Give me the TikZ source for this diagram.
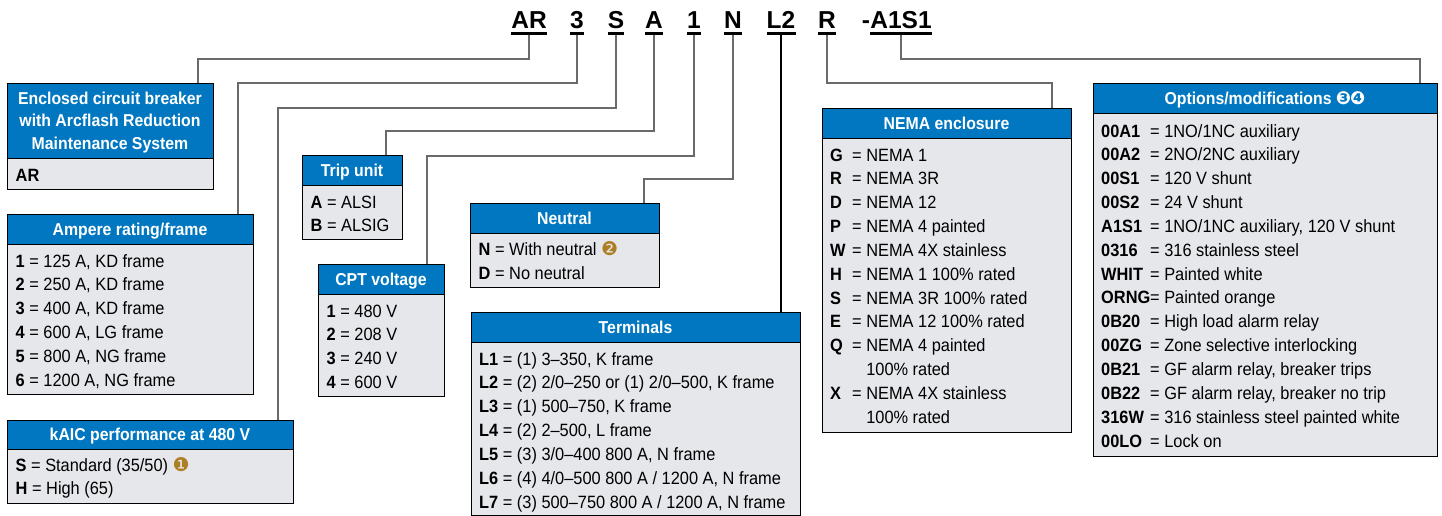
\documentclass[tikz,border=0pt]{standalone}
\usepackage{fontspec}
\setmainfont[FakeStretch=0.92]{Liberation Sans}
\newfontfamily\codefont{Liberation Sans}
\newfontfamily\dejavu{DejaVu Sans}
\usetikzlibrary{calc}
\definecolor{hdrblue}{HTML}{0077C0}
\definecolor{bodygray}{HTML}{E6E7EB}
\definecolor{fngold}{HTML}{AD7F24}
\definecolor{connline}{HTML}{6A6A6A}
\newcommand\fnote[1]{{\dejavu\fontsize{19}{19}\selectfont\color{fngold}#1}}
\newcommand\mkbox[7]{%
  \node[hdrbox, minimum width={#3-#2}, minimum height={#5-#4}] (#1h) at (#2,#4) {};
  \node[bodybox, minimum width={#3-#2}, minimum height={#6-#5}] (#1) at (#2,#5) {};
  \node[hdrtext] (#1t) at ({(#2+#3)/2},{#5-8.5}) {#7};
}
\newcommand\mkrows[4]{%
  \foreach \t [count=\i from 0] in {#4}
    \node[rowtext] (#1r\i) at (#2,{#3+\i*23.85}) {\t};
}
\tikzset{
  hdrbox/.style={draw=black, line width=1.2pt, fill=hdrblue, anchor=north west, inner sep=0pt},
  bodybox/.style={draw=black, line width=1.2pt, fill=bodygray, anchor=north west, inner sep=0pt},
  hdrtext/.style={anchor=base, text=white, font=\bfseries\fontsize{17.2}{22.7}\selectfont, inner sep=0pt},
  rowtext/.style={anchor=base west, inner sep=0pt, font=\fontsize{17.8}{23.85}\selectfont},
  code/.style={anchor=base, inner sep=0pt, font=\codefont\bfseries\fontsize{24.5}{24.5}\selectfont},
  uline/.style={line width=3pt},
  conn/.style={draw=connline, line width=1.2pt},
  connblack/.style={draw=black, line width=1.2pt},
}
\begin{document}
\begin{tikzpicture}[x=1pt,y=-1pt]
\useasboundingbox (0,0) rectangle (1442,516);

% catalog number
\node[code] (cAR) at (529,29) {AR};
\node[code] (c3) at (577,29) {3};
\node[code] (cS) at (616,29) {S};
\node[code] (cA) at (654,29) {A};
\node[code] (c1) at (694,29) {1};
\node[code] (cN) at (733,29) {N};
\node[code] (cL2) at (781,29) {L2};
\node[code] (cR) at (827,29) {R};
\node[code] (cA1S1) at (901,29) {A1S1};
\node[code, anchor=base east] (cdash) at (cA1S1.base west) {-};
\foreach \c in {cAR,c3,cS,cA,c1,cN,cL2,cR,cA1S1}
  \draw[uline] ([yshift=-4.5pt]\c.base west) -- ([yshift=-4.5pt]\c.base east);

% boxes
\mkbox{enc}{7}{213}{83}{158}{189}{\begin{tabular}[b]{@{}c@{}}Enclosed circuit breaker\\with Arcflash Reduction\\Maintenance System\end{tabular}}
\mkrows{enc}{15.5}{181}{{\textbf{AR}}}

\mkbox{amp}{7}{253}{214}{244}{394}{Ampere rating/frame}
\mkrows{amp}{15.5}{267}{{\textbf{1} = 125 A, KD frame},{\textbf{2} = 250 A, KD frame},{\textbf{3} = 400 A, KD frame},{\textbf{4} = 600 A, LG frame},{\textbf{5} = 800 A, NG frame},{\textbf{6} = 1200 A, NG frame}}

\mkbox{kaic}{7}{293}{420}{449}{503}{kAIC performance at 480 V}
\mkrows{kaic}{15.5}{471}{{\textbf{S} = Standard (35/50) \fnote{❶}},{\textbf{H} = High (65)}}

\mkbox{trip}{302}{402}{155}{185}{239}{Trip unit}
\mkrows{trip}{310.5}{208}{{\textbf{A} = ALSI},{\textbf{B} = ALSIG}}

\mkbox{cpt}{318}{444}{264}{294}{396}{CPT voltage}
\mkrows{cpt}{326.5}{317}{{\textbf{1} = 480 V},{\textbf{2} = 208 V},{\textbf{3} = 240 V},{\textbf{4} = 600 V}}

\mkbox{neu}{470}{659}{203}{233}{287}{Neutral}
\mkrows{neu}{478.5}{255.5}{{\textbf{N} = With neutral \fnote{❷}},{\textbf{D} = No neutral}}

\mkbox{term}{471}{800}{312}{342}{515}{Terminals}
\mkrows{term}{479}{365}{{\textbf{L1} = (1) 3–350, K frame},{\textbf{L2} = (2) 2/0–250 or (1) 2/0–500, K frame},{\textbf{L3} = (1) 500–750, K frame},{\textbf{L4} = (2) 2–500, L frame},{\textbf{L5} = (3) 3/0–400 800 A, N frame},{\textbf{L6} = (4) 4/0–500 800 A / 1200 A, N frame},{\textbf{L7} = (3) 500–750 800 A / 1200 A, N frame}}

\mkbox{nema}{822}{1071}{108}{138}{432}{NEMA enclosure}
\mkrows{nema}{830}{161}{{\makebox[22pt][l]{\textbf{G}}= NEMA 1},{\makebox[22pt][l]{\textbf{R}}= NEMA 3R},{\makebox[22pt][l]{\textbf{D}}= NEMA 12},{\makebox[22pt][l]{\textbf{P}}= NEMA 4 painted},{\makebox[22pt][l]{\textbf{W}}= NEMA 4X stainless},{\makebox[22pt][l]{\textbf{H}}= NEMA 1 100\% rated},{\makebox[22pt][l]{\textbf{S}}= NEMA 3R 100\% rated},{\makebox[22pt][l]{\textbf{E}}= NEMA 12 100\% rated},{\makebox[22pt][l]{\textbf{Q}}= NEMA 4 painted},{\makebox[22pt][l]{}\phantom{= }100\% rated},{\makebox[22pt][l]{\textbf{X}}= NEMA 4X stainless},{\makebox[22pt][l]{}\phantom{= }100\% rated}}

\mkbox{opt}{1093}{1437}{83}{113}{456}{Options/modifications {\dejavu\fontsize{18}{18}\selectfont ❸\kern-1pt❹}}
\mkrows{opt}{1101}{137}{{\makebox[49pt][l]{\textbf{00A1}}= 1NO/1NC auxiliary},{\makebox[49pt][l]{\textbf{00A2}}= 2NO/2NC auxiliary},{\makebox[49pt][l]{\textbf{00S1}}= 120 V shunt},{\makebox[49pt][l]{\textbf{00S2}}= 24 V shunt},{\makebox[49pt][l]{\textbf{A1S1}}= 1NO/1NC auxiliary, 120 V shunt},{\makebox[49pt][l]{\textbf{0316}}= 316 stainless steel},{\makebox[49pt][l]{\textbf{WHIT}}= Painted white},{\makebox[49pt][l]{\textbf{ORNG}}= Painted orange},{\makebox[49pt][l]{\textbf{0B20}}= High load alarm relay},{\makebox[49pt][l]{\textbf{00ZG}}= Zone selective interlocking},{\makebox[49pt][l]{\textbf{0B21}}= GF alarm relay, breaker trips},{\makebox[49pt][l]{\textbf{0B22}}= GF alarm relay, breaker no trip},{\makebox[49pt][l]{\textbf{316W}}= 316 stainless steel painted white},{\makebox[49pt][l]{\textbf{00LO}}= Lock on}}

% connectors
\coordinate (kAR) at (198,59);
\coordinate (k3) at (238,83);
\coordinate (kS) at (278,108);
\coordinate (kA) at (386,131);
\coordinate (k1) at (427,156);
\coordinate (kN) at (644,179);
\coordinate (kR) at (1052,83);
\coordinate (kA1S1) at (1420,59);
\draw[conn] ([yshift=-6pt]cAR.base) |- (kAR) -- (kAR |- ench.north);
\draw[conn] ([yshift=-6pt]c3.base) |- (k3) -- (k3 |- amph.north);
\draw[conn] ([yshift=-6pt]cS.base) |- (kS) -- (kS |- kaich.north);
\draw[conn] ([yshift=-6pt]cA.base) |- (kA) -- (kA |- triph.north);
\draw[conn] ([yshift=-6pt]c1.base) |- (k1) -- (k1 |- cpth.north);
\draw[conn] ([yshift=-6pt]cN.base) |- (kN) -- (kN |- neuh.north);
\draw[connblack] ([yshift=-6pt]cL2.base) -- (cL2.base |- termh.north);
\draw[conn] ([yshift=-6pt]cR.base) |- (kR) -- (kR |- nemah.north);
\draw[conn] ([yshift=-6pt]cA1S1.base) |- (kA1S1) -- (kA1S1 |- opth.north);
\end{tikzpicture}
\end{document}
